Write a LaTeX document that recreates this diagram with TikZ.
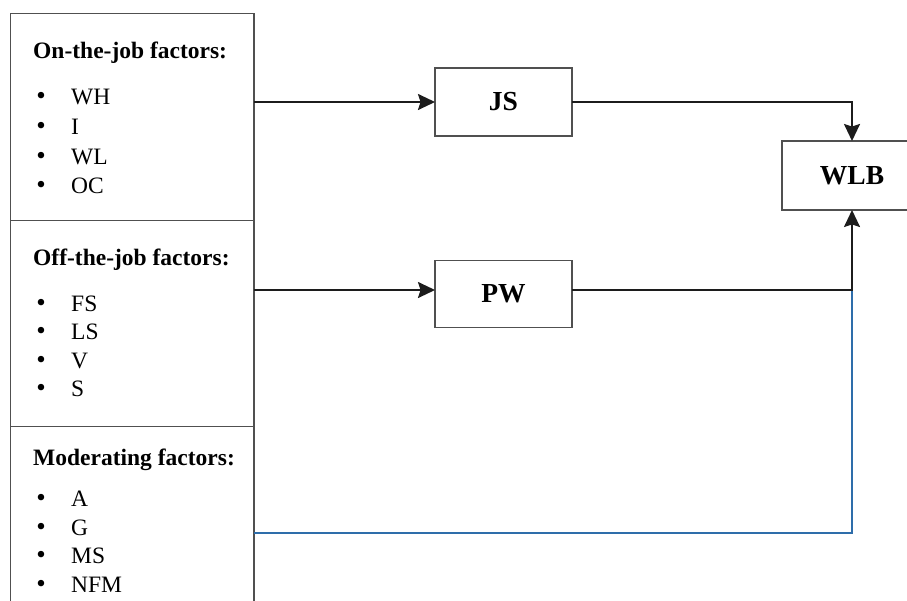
\documentclass[tikz,border=0pt]{standalone}
\usepackage{fontspec}
\setmainfont{Liberation Serif}
\usetikzlibrary{arrows.meta}
\definecolor{boxgray}{HTML}{505050}
\definecolor{linedark}{HTML}{1C1C1C}
\definecolor{modblue}{HTML}{2E6DAA}
\tikzset{
  panel/.style={draw=boxgray, line width=1.3pt, inner sep=0pt, outer sep=0pt, fill=white},
  varbox/.style={draw=boxgray, line width=1.4pt, inner sep=0pt, outer sep=0pt, minimum width=137pt,
     font=\fontsize{27.5}{32}\selectfont\bfseries},
  paneltitle/.style={anchor=base west, inner sep=0pt, font=\fontsize{23.5}{28}\selectfont\bfseries},
  itemtext/.style={anchor=base west, inner sep=0pt, font=\fontsize{23.5}{28}\selectfont},
  bul/.style={anchor=base, inner sep=0pt, font=\fontsize{27}{30}\selectfont},
  conn/.style={draw=linedark, line width=2pt, -{Stealth[length=17pt,width=16pt,inset=2.5pt]}},
  modline/.style={draw=modblue, line width=1.8pt}
}
\begin{document}
\begin{tikzpicture}[x=1pt,y=-1pt]
\clip (0,0) rectangle (907,600);
\fill[white] (0,0) rectangle (907,600);

% left panels
\node[panel, minimum width=243.5pt, minimum height=207pt] (onjob) at (132.25,117) {};
\node[panel, minimum width=243.5pt, minimum height=206pt] (offjob) at (132.25,323.5) {};
\node[panel, minimum width=243.5pt, minimum height=213.5pt] (moder) at (132.25,533.25) {};

% panel 1 text
\node[paneltitle] (t1) at (33,58) {On-the-job factors:};
\node[bul] (b11) at (41,104) {\textbullet};
\node[itemtext] (i11) at (71,104) {WH};
\node[bul] (b12) at (41,134) {\textbullet};
\node[itemtext] (i12) at (71,134) {I};
\node[bul] (b13) at (41,164) {\textbullet};
\node[itemtext] (i13) at (71,164) {WL};
\node[bul] (b14) at (41,193) {\textbullet};
\node[itemtext] (i14) at (71,193) {OC};

% panel 2 text
\node[paneltitle] (t2) at (33,265) {Off-the-job factors:};
\node[bul] (b21) at (41,311) {\textbullet};
\node[itemtext] (i21) at (71,311) {FS};
\node[bul] (b22) at (41,339) {\textbullet};
\node[itemtext] (i22) at (71,339) {LS};
\node[bul] (b23) at (41,368) {\textbullet};
\node[itemtext] (i23) at (71,368) {V};
\node[bul] (b24) at (41,396) {\textbullet};
\node[itemtext] (i24) at (71,396) {S};

% panel 3 text
\node[paneltitle] (t3) at (33,465) {Moderating factors:};
\node[bul] (b31) at (41,506) {\textbullet};
\node[itemtext] (i31) at (71,506) {A};
\node[bul] (b32) at (41,535) {\textbullet};
\node[itemtext] (i32) at (71,535) {G};
\node[bul] (b33) at (41,563) {\textbullet};
\node[itemtext] (i33) at (71,563) {MS};
\node[bul] (b34) at (41,592) {\textbullet};
\node[itemtext] (i34) at (71,592) {NFM};

% variable boxes
\node[varbox, minimum height=68pt] (JS) at (503.5,102) {JS};
\node[varbox, minimum height=67pt] (PW) at (503.5,294) {PW};
\node[varbox, minimum width=140pt, minimum height=69pt] (WLB) at (852,175.5) {WLB};

\coordinate (pwin) at ([yshift=4pt]PW.west);
\coordinate (pwout) at ([yshift=4pt]PW.east);
\coordinate (join) at (WLB.south |- pwout);

% connectors
\draw[modline] (moder.east) -| (join);
\draw[conn] (onjob.east |- JS.west) -- (JS.west);
\draw[conn] (offjob.east |- pwin) -- (pwin);
\draw[conn] (JS.east) -| (WLB.north);
\draw[conn] (pwout) -| (WLB.south);
\end{tikzpicture}
\end{document}
